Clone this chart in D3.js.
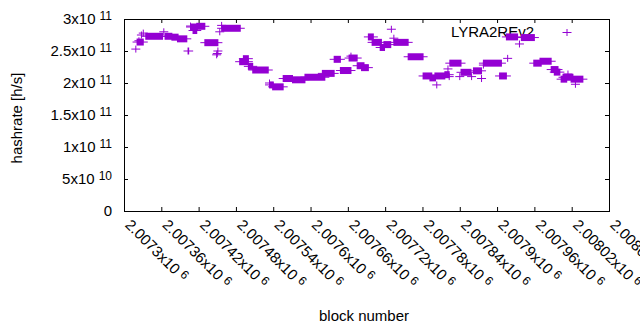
<!DOCTYPE html>
<html>
<head>
<meta charset="utf-8">
<script src="https://cdn.jsdelivr.net/npm/d3@7"></script>
<style>
  body { margin: 0; background: #fff; }
  text { font-family: "Liberation Sans", Arial, sans-serif; fill: #000; }
</style>
</head>
<body>
<script>
var runFirst = [2007319, 2007321, 2007324, 2007328, 2007331, 2007335, 2007364, 2007366, 2007377, 2007386,
                2007403, 2007407, 2007407, 2007411, 2007417, 2007430, 2007449, 2007450, 2007451, 2007454,
                2007457, 2007457, 2007486, 2007492, 2007500, 2007507, 2007534, 2007534, 2007539, 2007556,
                2007571, 2007591, 2007619, 2007638, 2007648, 2007662, 2007665, 2007675, 2007682, 2007693,
                2007699, 2007712, 2007718, 2007730, 2007734, 2007734, 2007757, 2007781, 2007792, 2007800,
                2007803, 2007816, 2007821, 2007823, 2007824, 2007840, 2007842, 2007859, 2007862, 2007875,
                2007878, 2007878, 2007904, 2007915, 2007917, 2007936, 2007939, 2007959, 2007969, 2007987,
                2007992, 2008003, 2008006, 2008014, 2008019, 2008026];
var runLast  = [2007319, 2007331, 2007324, 2007328, 2007331, 2007362, 2007364, 2007377, 2007387, 2007401,
                2007404, 2007407, 2007418, 2007417, 2007430, 2007451, 2007449, 2007450, 2007451, 2007454,
                2007457, 2007487, 2007500, 2007500, 2007507, 2007532, 2007534, 2007540, 2007556, 2007571,
                2007591, 2007623, 2007638, 2007648, 2007665, 2007675, 2007665, 2007686, 2007693, 2007701,
                2007714, 2007719, 2007729, 2007730, 2007734, 2007757, 2007781, 2007795, 2007801, 2007816,
                2007803, 2007823, 2007821, 2007823, 2007842, 2007840, 2007858, 2007859, 2007875, 2007875,
                2007878, 2007907, 2007915, 2007933, 2007917, 2007936, 2007960, 2007971, 2007987, 2007998,
                2008001, 2008012, 2008022, 2008014, 2008038, 2008026];
var runHash  = [2.53e11, 2.64e11, 2.66e11, 2.75e11, 2.78e11, 2.73e11, 2.80e11, 2.73e11, 2.716e11, 2.69e11,
                2.50e11, 2.89e11, 2.875e11, 2.82e11, 2.886e11, 2.63e11, 2.44e11, 2.46e11, 2.50e11, 2.80e11,
                2.90e11, 2.855e11, 2.333e11, 2.38e11, 2.26e11, 2.203e11, 2.00e11, 1.97e11, 1.94e11, 2.07e11,
                2.05e11, 2.09e11, 2.15e11, 2.37e11, 2.195e11, 2.39e11, 2.42e11, 2.27e11, 2.24e11, 2.72e11,
                2.635e11, 2.555e11, 2.60e11, 2.84e11, 2.70e11, 2.635e11, 2.41e11, 2.11e11, 2.08e11, 2.11e11,
                1.97e11, 2.13e11, 2.22e11, 2.10e11, 2.31e11, 2.10e11, 2.167e11, 2.10e11, 2.19e11, 2.07e11,
                2.28e11, 2.31e11, 2.11e11, 2.72e11, 2.385e11, 2.61e11, 2.71e11, 2.31e11, 2.34e11, 2.21e11,
                2.17e11, 2.06e11, 2.09e11, 2.14e11, 2.06e11, 1.98e11];

var xTicks = [2007300, 2007360, 2007420, 2007480, 2007540, 2007600, 2007660,
              2007720, 2007780, 2007840, 2007900, 2007960, 2008020, 2008080];
var xTickMant = ["2.0073", "2.00736", "2.00742", "2.00748", "2.00754", "2.0076", "2.00766",
                 "2.00772", "2.00778", "2.00784", "2.0079", "2.00796", "2.00802", "2.00808"];
var yTicks = [0, 5e10, 1e11, 1.5e11, 2e11, 2.5e11, 3e11];
var yTickMant = ["0", "5", "1", "1.5", "2", "2.5", "3"];
var yTickExp = ["", "10", "11", "11", "11", "11", "11"];
var seriesName = "LYRA2REv2";

var col = "#9400d3";
var W = 640, H = 330,
    plotL = 124, plotR = 609, plotT = 19, plotB = 211;

var svg = d3.select("body").append("svg")
    .attr("width", W).attr("height", H);

var x = d3.scaleLinear().domain([2007300, 2008080]).range([plotL, plotR]);
var y = d3.scaleLinear().domain([0, 3e11]).range([plotB, plotT]);

// ticks on all four sides, pointing inwards
var xb = svg.append("g").attr("transform", "translate(0," + plotB + ")")
  .call(d3.axisBottom(x).tickValues(xTicks).tickSizeInner(-4).tickSizeOuter(0).tickFormat(""));
var xt = svg.append("g").attr("transform", "translate(0," + plotT + ")")
  .call(d3.axisTop(x).tickValues(xTicks).tickSizeInner(-4).tickSizeOuter(0).tickFormat(""));
var yl = svg.append("g").attr("transform", "translate(" + plotL + ",0)")
  .call(d3.axisLeft(y).tickValues(yTicks).tickSizeInner(-4).tickSizeOuter(0).tickPadding(12).tickFormat(""));
var yr = svg.append("g").attr("transform", "translate(" + plotR + ",0)")
  .call(d3.axisRight(y).tickValues(yTicks).tickSizeInner(-4).tickSizeOuter(0).tickFormat(""));
svg.selectAll(".domain").remove();
svg.selectAll(".tick line").attr("stroke", "#000");

svg.append("rect")
  .attr("x", plotL + 0.5).attr("y", plotT + 0.5)
  .attr("width", plotR - plotL).attr("height", plotB - plotT)
  .attr("fill", "none").attr("stroke", "#000").attr("stroke-width", 1);

// y tick labels like 2.5x10^11
yl.selectAll(".tick text").each(function(d, i) {
  var t = d3.select(this).attr("font-size", 15).attr("font-family", null).attr("fill", "#000");
  if (yTickExp[i] === "") { t.text(yTickMant[i]); return; }
  t.append("tspan").text(yTickMant[i] + "x10");
  t.append("tspan").attr("dx", 4).attr("dy", -4).attr("font-size", 12).text(yTickExp[i]);
});

// rotated x tick labels
svg.append("g").selectAll("text")
  .data(xTicks)
  .join("text")
    .attr("transform", function(d) { return "translate(" + (x(d) + 4) + "," + (plotB + 11) + ") rotate(45)"; })
    .attr("font-size", 15)
    .attr("dy", "0.35em")
    .each(function(d, i) {
      var t = d3.select(this);
      t.append("tspan").text(xTickMant[i] + "x10");
      t.append("tspan").attr("dx", 4).attr("dy", -4).attr("font-size", 12).text("6");
    });

svg.append("text")
  .attr("transform", "translate(22,118) rotate(-90)")
  .attr("text-anchor", "middle").attr("font-size", 15)
  .text("hashrate [h/s]");

svg.append("text")
  .attr("x", 364).attr("y", 321)
  .attr("text-anchor", "middle").attr("font-size", 15)
  .text("block number");

// key
svg.append("text")
  .attr("x", 534).attr("y", 37)
  .attr("text-anchor", "end").attr("font-size", 15)
  .text(seriesName);
svg.append("path")
  .attr("d", "M562.5,32.5h9M567,29v7")
  .attr("stroke", col).attr("stroke-width", 1).attr("fill", "none");

// points: a run of '+' markers on consecutive blocks
var runs = runFirst.map(function(f, i) { return {a: f, b: runLast[i], v: runHash[i]}; });
var pts = svg.append("g");
pts.selectAll("rect")
  .data(runs)
  .join("rect")
    .attr("x", function(d) { return x(d.a) - 0.5; })
    .attr("width", function(d) { return x(d.b) - x(d.a) + 1; })
    .attr("y", function(d) { return y(d.v) - 3.5; })
    .attr("height", 7)
    .attr("fill", col);
pts.selectAll("line")
  .data(runs)
  .join("line")
    .attr("x1", function(d) { return x(d.a) - 4.5; })
    .attr("x2", function(d) { return x(d.b) + 4.5; })
    .attr("y1", function(d) { return y(d.v); })
    .attr("y2", function(d) { return y(d.v); })
    .attr("stroke", col).attr("stroke-width", 1);
</script>
</body>
</html>
